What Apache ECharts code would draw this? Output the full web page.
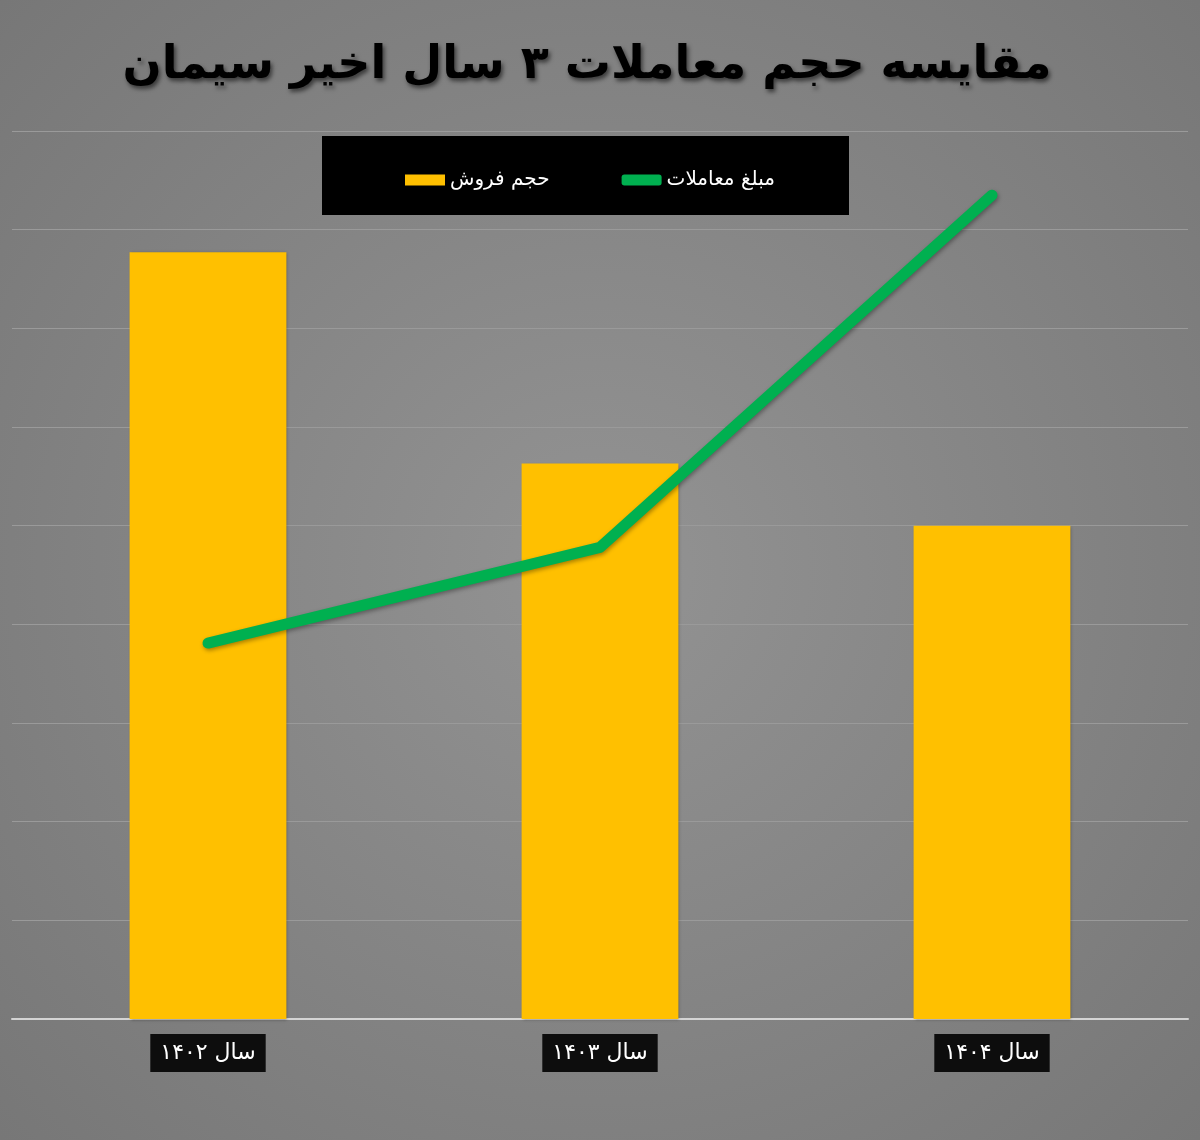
<!DOCTYPE html>
<html>
<head>
<meta charset="utf-8">
<script src="https://cdn.jsdelivr.net/npm/echarts@6/dist/echarts.min.js"></script>
<style>
  html, body { margin: 0; padding: 0; }
  #chart { width: 1200px; height: 1140px; }
</style>
</head>
<body>
<div id="chart"></div>
<script>
// داده‌ها
var years = ['سال ۱۴۰۲', 'سال ۱۴۰۳', 'سال ۱۴۰۴'];
var salesVolume = [777, 563, 500];      // حجم فروش
var tradeAmount = [381, 478, 835];      // مبلغ معاملات
var seriesNames = ['حجم فروش', 'مبلغ معاملات'];
var titleText = 'مقایسه حجم معاملات ۳ سال اخیر سیمان';

var font = '"DejaVu Sans", "Noto Sans", sans-serif';

var chart = echarts.init(document.getElementById('chart'));

var option = {
    animation: false,
    backgroundColor: new echarts.graphic.RadialGradient(0.5, 0.5, 0.75, [
        {offset: 0, color: '#939393'},
        {offset: 1, color: '#767676'}
    ]),
    title: {
        text: titleText,
        left: 582,
        top: 38,
        textAlign: 'center',
        textStyle: {
            fontFamily: font,
            fontSize: 46,
            fontWeight: 'bold',
            color: '#000',
            textShadowColor: 'rgba(0,0,0,0.55)',
            textShadowBlur: 4,
            textShadowOffsetX: 2,
            textShadowOffsetY: 3
        }
    },
    graphic: [{
        type: 'rect',
        z: 0,
        shape: {x: 322, y: 136, width: 527, height: 79},
        style: {fill: '#000'}
    }],
    legend: {
        left: 400,
        top: 165,
        itemGap: 72,
        itemWidth: 40,
        itemHeight: 11,
        textStyle: {color: '#fff', fontSize: 20, fontFamily: font},
        data: [
            {name: seriesNames[0], icon: 'rect'},
            {name: seriesNames[1], icon: 'roundRect', itemStyle: {color: '#00b050'}}
        ]
    },
    grid: {
        left: 12,
        right: 12,
        top: 131,
        bottom: 121
    },
    xAxis: {
        type: 'category',
        data: years,
        axisLine: {lineStyle: {color: '#d4d4d4', width: 2}},
        axisTick: {show: false},
        axisLabel: {
            margin: 15,
            color: '#fff',
            fontSize: 22,
            fontFamily: font,
            backgroundColor: '#0d0d0d',
            padding: [8, 10, 8, 10]
        }
    },
    yAxis: {
        type: 'value',
        min: 0,
        max: 900,
        interval: 100,
        axisLine: {show: false},
        axisLabel: {show: false},
        axisTick: {show: false},
        splitLine: {lineStyle: {color: '#9a9a9a', width: 1}}
    },
    series: [{
        name: seriesNames[0],
        type: 'bar',
        barWidth: '40%',
        itemStyle: {
            color: '#ffc000',
            shadowColor: 'rgba(0,0,0,0.35)',
            shadowBlur: 3,
            shadowOffsetX: 1,
            shadowOffsetY: 1
        },
        data: salesVolume
    }, {
        name: seriesNames[1],
        type: 'line',
        symbol: 'none',
        z: 5,
        lineStyle: {
            color: '#00b050',
            width: 11,
            cap: 'round',
            join: 'round',
            shadowColor: 'rgba(0,0,0,0.35)',
            shadowBlur: 4,
            shadowOffsetX: 1,
            shadowOffsetY: 2
        },
        itemStyle: {color: '#00b050'},
        data: tradeAmount
    }]
};

chart.setOption(option);
</script>
</body>
</html>
